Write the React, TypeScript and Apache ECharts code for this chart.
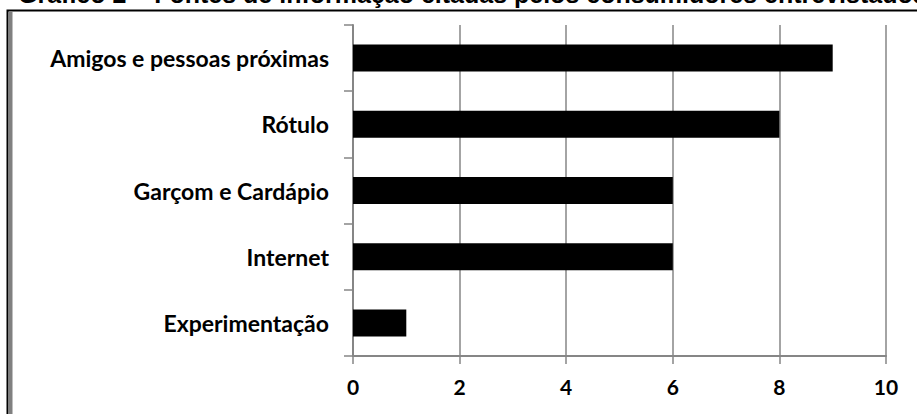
import React, { useEffect, useRef } from "react";
import * as echarts from "echarts";

const categories = ["Amigos e pessoas próximas", "Rótulo", "Garçom e Cardápio", "Internet", "Experimentação"];
const values = [9, 8, 6, 6, 1];
const titleText = "Gráfico 2 – Fontes de informação citadas pelos consumidores entrevistados";

const FONT = "Lato, 'Liberation Sans Narrow', sans-serif";

export default function App() {
  const ref = useRef<HTMLDivElement>(null);
  useEffect(() => {
    const chart = echarts.init(ref.current!, null, { renderer: "svg" });
    chart.setOption({
      animation: false,
      backgroundColor: "#ffffff",
      grid: { left: 353, right: 31, top: 25, bottom: 58, containLabel: false },
      xAxis: {
        type: "value",
        min: 0,
        max: 10,
        interval: 2,
        axisLine: { show: true, lineStyle: { color: "#868686", width: 2 } },
        axisTick: { show: true, length: 8, lineStyle: { color: "#868686", width: 1.5 } },
        splitLine: { show: true, lineStyle: { color: "#868686", width: 1.5 } },
        axisLabel: { color: "#000", fontFamily: FONT, fontWeight: "bold", fontSize: 21, margin: 20 },
      },
      yAxis: {
        type: "category",
        data: categories,
        inverse: true,
        axisLine: { show: true, lineStyle: { color: "#868686", width: 2 } },
        axisTick: { show: true, length: 9, lineStyle: { color: "#868686", width: 1.5 } },
        axisLabel: { color: "#000", fontFamily: FONT, fontWeight: "bold", fontSize: 23, margin: 24 },
      },
      series: [
        {
          type: "bar",
          data: values,
          barWidth: 27,
          itemStyle: { color: "#000" },
        },
      ],
      graphic: [
        {
          type: "rect",
          shape: { x: 7.5, y: 10.5, width: 1000, height: 1000 },
          style: { fill: "none", stroke: "#000", lineWidth: 2 },
          silent: true,
        },
        {
          type: "rect",
          shape: { x: 9, y: 12, width: 3.5, height: 500 },
          style: { fill: "#808080" },
          silent: true,
        },
        {
          type: "text",
          x: 18,
          y: 6,
          style: {
            text: titleText,
            fill: "#000",
            font: "bold 25px 'Liberation Sans', Arial, sans-serif",
            verticalAlign: "bottom",
            align: "left",
          },
          silent: true,
        },
      ],
    });
    return () => chart.dispose();
  }, []);
  return <div ref={ref} style={{ position: "absolute", left: 0, top: 0, width: 917, height: 414 }} />;
}
